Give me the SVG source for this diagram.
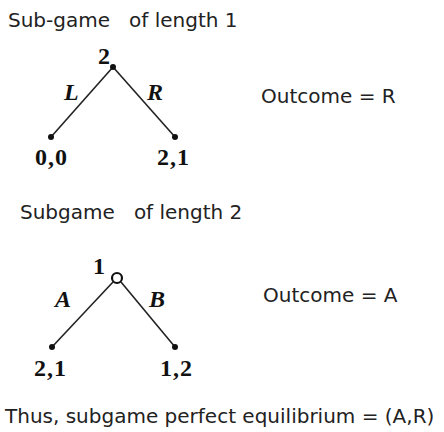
<svg xmlns="http://www.w3.org/2000/svg" width="444" height="432" viewBox="0 0 444 432">
<style>
.t{font-family:"DejaVu Sans",sans-serif;font-size:20px;fill:#222;white-space:pre}
.n{font-family:"Liberation Serif","DejaVu Serif",serif;font-weight:bold;font-size:24px;fill:#111;letter-spacing:1px}
.m{font-family:"Liberation Serif","DejaVu Serif",serif;font-style:italic;font-weight:bold;font-size:24px;fill:#111}
.e{stroke:#222;stroke-width:1.6;fill:none}
.d{fill:#111}
</style>
<rect width="444" height="432" fill="#fff"/>
<text class="t" x="8" y="27" xml:space="preserve">Sub-game   of length 1</text>
<text class="t" x="20" y="219" xml:space="preserve">Subgame   of length 2</text>
<text class="t" x="261" y="103">Outcome = R</text>
<text class="t" x="263" y="302">Outcome = A</text>
<text class="t" x="5" y="423">Thus, subgame perfect equilibrium = (A,R)</text>
<g id="connectors">
<line class="e" x1="113" y1="67" x2="51" y2="137"/>
<line class="e" x1="113" y1="67" x2="175" y2="137"/>
<line class="e" x1="113" y1="282" x2="52" y2="347"/>
<line class="e" x1="121" y1="282" x2="175" y2="347"/>
</g>
<g id="n2"><circle class="d" cx="113" cy="67" r="3"/><text class="n" x="98" y="64">2</text></g>
<g id="l00"><circle class="d" cx="51" cy="137" r="3"/><text class="n" x="35" y="165">0,0</text></g>
<g id="l21"><circle class="d" cx="175" cy="137" r="3"/><text class="n" x="157" y="165">2,1</text></g>
<g id="eL"><text class="m" x="64" y="100">L</text></g>
<g id="eR"><text class="m" x="147" y="100">R</text></g>
<g id="n1"><circle cx="117" cy="278" r="5" fill="#fff" stroke="#111" stroke-width="2.2"/><text class="n" x="93" y="274">1</text></g>
<g id="l21b"><circle class="d" cx="52" cy="347" r="3"/><text class="n" x="34" y="376">2,1</text></g>
<g id="l12"><circle class="d" cx="175" cy="347" r="3"/><text class="n" x="160" y="376">1,2</text></g>
<g id="eA"><text class="m" x="55" y="307">A</text></g>
<g id="eB"><text class="m" x="149" y="307">B</text></g>
</svg>
